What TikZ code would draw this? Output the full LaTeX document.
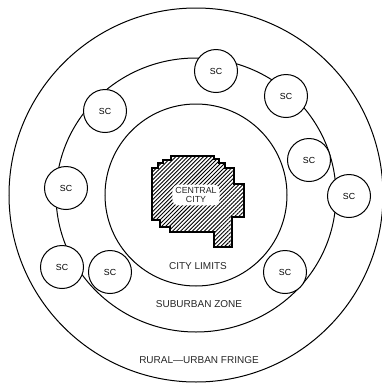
\documentclass[tikz,border=0pt]{standalone}
\usepackage{fontspec}
\setmainfont{Liberation Sans}
\usetikzlibrary{patterns.meta}

\begin{document}
\begin{tikzpicture}[
    x=1pt, y=-1pt,
    ring/.style={draw, line width=1pt},
    sc/.style={draw, circle, line width=1pt, fill=white, minimum size=43pt, inner sep=0pt, font=\fontsize{8.8}{10}\selectfont},
    zone/.style={font=\fontsize{10}{12}\selectfont, text=black!85},
]
\useasboundingbox (0,0) rectangle (382,384);
\coordinate (ctr) at (196,195);
\draw[ring] (ctr) circle[radius=187];
\draw[ring] (ctr) circle[x radius=140, y radius=137];
\draw[ring] (ctr) circle[radius=91];

\draw[line width=1.1pt, pattern={Lines[angle=45, distance=2.8pt, line width=0.9pt]}]
    (171,156) -- (214,156) -- (214,159) -- (219,159) -- (219,163) -- (225,163) -- (225,168)
    -- (234,168) -- (234,184) -- (244,184) -- (244,217) -- (232,217) -- (232,247)
    -- (214,247) -- (214,232) -- (170,232) -- (170,227) -- (160,227) -- (160,220)
    -- (152,220) -- (152,168) -- (158,168) -- (158,163) -- (163,163) -- (163,160)
    -- (171,160) -- cycle;
\node[fill=white, rounded corners=6pt, inner xsep=3pt, inner ysep=2.5pt, align=center, font=\fontsize{8.8}{9.5}\selectfont, text=black!85] (central) at (196,195) {CENTRAL\\CITY};

\node[zone] (limits) at (198,266) {CITY LIMITS};
\node[zone] (suburb) at (199,304) {SUBURBAN ZONE};
\node[zone] (fringe) at (199,360) {RURAL—URBAN FRINGE};

\node[sc] (sc1) at (216,71) {SC};
\node[sc] (sc2) at (286,96) {SC};
\node[sc] (sc3) at (105,111) {SC};
\node[sc] (sc4) at (309,160) {SC};
\node[sc] (sc5) at (349,196) {SC};
\node[sc] (sc6) at (66,188) {SC};
\node[sc] (sc7) at (62,267) {SC};
\node[sc] (sc8) at (110,272) {SC};
\node[sc] (sc9) at (285,272) {SC};
\end{tikzpicture}
\end{document}
